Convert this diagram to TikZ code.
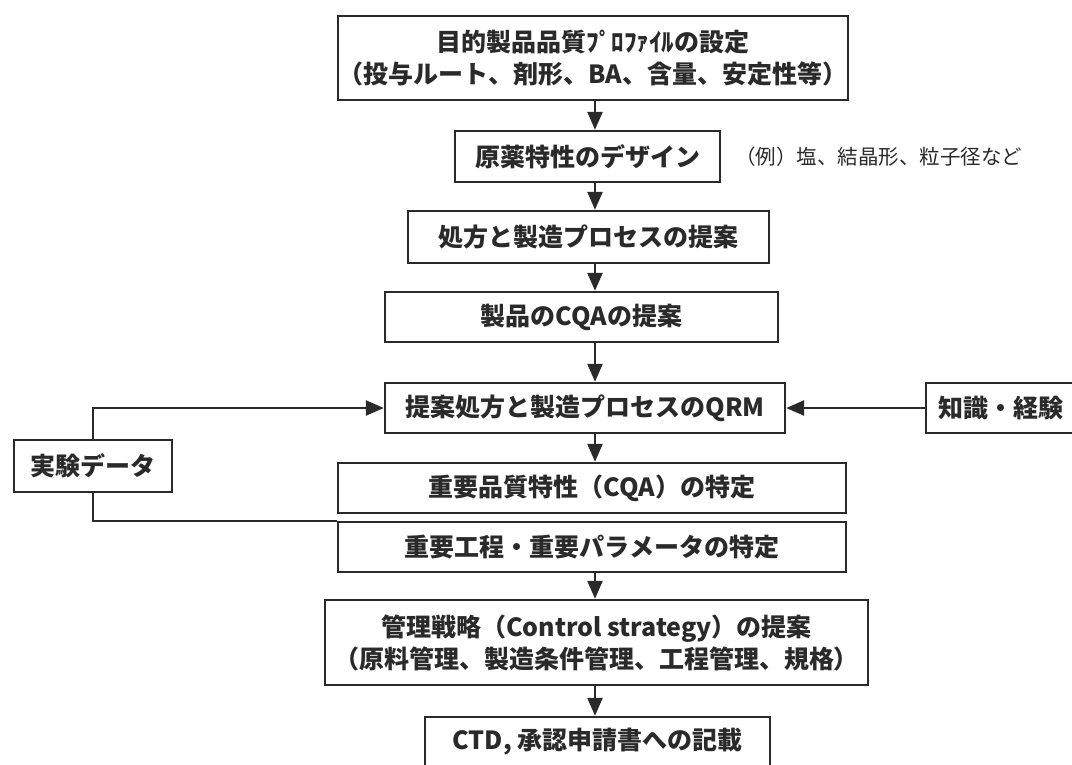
\documentclass[tikz,border=0pt]{standalone}
\usepackage{fontspec}
\setmainfont{Noto Sans CJK JP}
\usetikzlibrary{arrows.meta}
\definecolor{ink}{HTML}{2A2A2A}
\tikzset{
  box/.style={draw=ink, line width=2.4pt, fill=white, inner sep=0pt, align=center,
    text=ink, font=\bfseries\fontsize{25}{32}\selectfont},
  conn/.style={draw=ink, line width=2.5pt},
  arr/.style={conn, -{Triangle[length=18pt,width=15pt]}},
  note/.style={text=ink, inner sep=0pt, font=\fontsize{20.5}{24}\selectfont}
}
\begin{document}
\begin{tikzpicture}[x=1pt,y=-1pt]
\useasboundingbox (0,0) rectangle (1072,764);
\clip (0,0) rectangle (1072,764);
\coordinate (ax) at (595,0);
\node[box, minimum width=510pt, minimum height=84pt] (b1) at (593,58)
  {目的製品品質ﾌﾟﾛﾌｧｲﾙの設定\\（投与ルート、剤形、BA、含量、安定性等）};
\node[box, minimum width=265pt, minimum height=51pt] (b2) at (587.5,156.5) {原薬特性のデザイン};
\node[note, anchor=west] (nt) at (735,157) {（例）塩、結晶形、粒子径など};
\node[box, minimum width=361pt, minimum height=52pt] (b3) at (588.5,237) {処方と製造プロセスの提案};
\node[box, minimum width=393pt, minimum height=50pt] (b4) at (581.5,317) {製品のCQAの提案};
\node[box, minimum width=400pt, minimum height=50pt] (b5) at (585,408) {提案処方と製造プロセスのQRM};
\node[box, minimum width=170pt, minimum height=50pt] (kn) at (1011,408) {知識・経験\hspace*{20pt}};
\node[box, minimum width=158pt, minimum height=52pt] (jk) at (93,466) {実験データ};
\node[box, minimum width=508pt, minimum height=50pt] (b6) at (592,488) {重要品質特性（CQA）の特定};
\node[box, minimum width=508pt, minimum height=50pt] (b7) at (592,547) {重要工程・重要パラメータの特定};
\node[box, minimum width=543pt, minimum height=85pt] (b8) at (596.5,642.5)
  {管理戦略（Control strategy）の提案\\（原料管理、製造条件管理、工程管理、規格）};
\node[box, minimum width=345pt, minimum height=50pt] (b9) at (597.5,742) {CTD, 承認申請書への記載};
\draw[arr] (b1.south -| ax) -- (b2.north -| ax);
\draw[arr] (b2.south -| ax) -- (b3.north -| ax);
\draw[arr] (b3.south -| ax) -- (b4.north -| ax);
\draw[arr] (b4.south -| ax) -- (b5.north -| ax);
\draw[arr] (b5.south -| ax) -- (b6.north -| ax);
\draw[arr] (b7.south -| ax) -- (b8.north -| ax);
\draw[arr] (b8.south -| ax) -- (b9.north -| ax);
\draw[arr] (kn.west) -- (b5.east);
\draw[arr] (jk.north) |- (b5.west);
\draw[conn] (jk.south) |- (b7.north west);
\end{tikzpicture}
\end{document}
